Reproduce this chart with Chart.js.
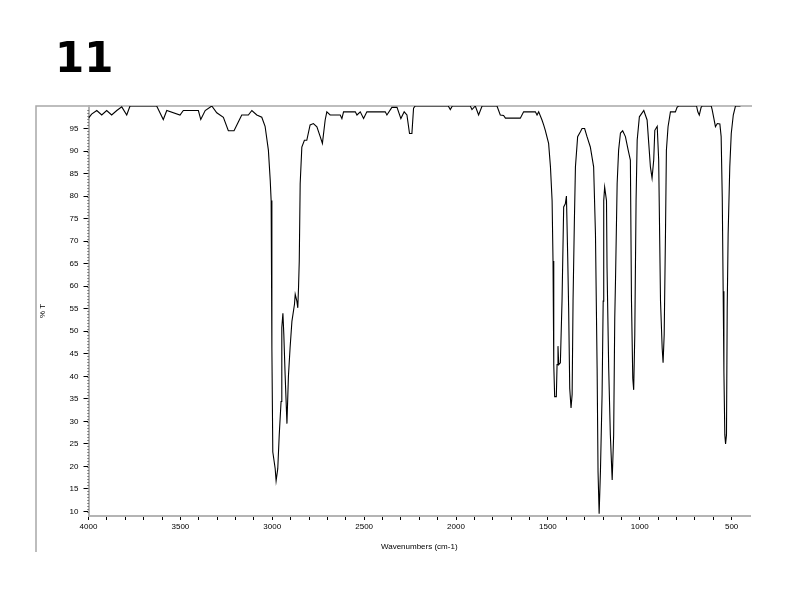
<!DOCTYPE html>
<html>
<head>
<meta charset="utf-8">
<script src="https://cdn.jsdelivr.net/npm/chart.js@4"></script>
<style>
  html, body { margin: 0; padding: 0; background: #fff; }
  #wrap { width: 800px; height: 600px; }
</style>
</head>
<body>
<div id="wrap"><canvas id="chart" width="800" height="600"></canvas></div>
<script>
// IR spectrum (cm-1 and %T)
const wavenumbers = [
  4000, 3983, 3955, 3928, 3901, 3874, 3846, 3819, 3792, 3774,
  3629, 3593, 3574, 3502, 3484, 3402, 3389, 3365, 3329, 3302,
  3266, 3239, 3208, 3184, 3166, 3130, 3111, 3084, 3057, 3039,
  3021, 3011, 3006, 3002, 2997, 2984, 2979, 2970, 2962, 2952,
  2948, 2942, 2937, 2930, 2920, 2912, 2903, 2893, 2879, 2875,
  2866, 2861, 2857, 2853, 2848, 2839, 2825, 2812, 2794, 2776,
  2757, 2739, 2727, 2712, 2703, 2685, 2630, 2621, 2612, 2548,
  2539, 2521, 2503, 2485, 2385, 2376, 2349, 2321, 2300, 2282,
  2267, 2253, 2240, 2231, 2222, 2042, 2031, 2020, 1922, 1913,
  1895, 1877, 1858, 1777, 1759, 1741, 1731, 1650, 1632, 1568,
  1559, 1550, 1532, 1523, 1514, 1496, 1486, 1477, 1472, 1468,
  1463, 1454, 1450, 1445, 1441, 1432, 1423, 1414, 1405, 1399,
  1392, 1387, 1381, 1374, 1368, 1363, 1356, 1350, 1338, 1323,
  1314, 1300, 1287, 1269, 1251, 1241, 1232, 1227, 1221, 1214,
  1205, 1199, 1196, 1191, 1181, 1178, 1169, 1160, 1150, 1142,
  1136, 1132, 1123, 1115, 1105, 1093, 1078, 1063, 1051, 1045,
  1038, 1033, 1027, 1020, 1014, 1002, 978, 960, 951, 942,
  933, 924, 918, 905, 897, 887, 878, 873, 867, 860,
  855, 846, 833, 806, 797, 789, 691, 684, 676, 666,
  660, 611, 606, 597, 588, 578, 564, 557, 551, 546,
  542, 537, 533, 528, 524, 519, 510, 502, 491, 479,
  452
];
const transmittance = [
  97.3, 98.2, 99, 98, 99, 98, 99, 99.8, 98, 100,
  100, 97, 99, 98, 99, 99, 97, 99, 100, 98.5,
  97.5, 94.5, 94.5, 96.5, 98, 98, 99, 98, 97.5, 95.5,
  90.2, 83.5, 79, 46.3, 23.2, 19.5, 16.8, 19.5, 27, 34.4,
  50.8, 54, 49.3, 40.4, 29.5, 40, 46.3, 52.2, 56, 58.2,
  56.7, 55.2, 59.7, 65.6, 82.8, 90.9, 92.4, 92.4, 95.8, 96.1,
  95.4, 93.2, 91.7, 96.9, 98.7, 98, 98, 97.2, 98.7, 98.7,
  98, 98.7, 97.2, 98.7, 98.7, 98, 99.7, 99.7, 97.2, 98.7,
  98, 93.9, 93.9, 99.5, 100, 100, 99.2, 100, 100, 99.2,
  100, 98, 100, 100, 98, 97.9, 97.3, 97.3, 98.7, 98.7,
  98, 98.7, 96.9, 95.8, 94.6, 91.7, 86.5, 79, 65.6, 42.6,
  35.5, 35.5, 42.6, 46.7, 42.6, 43, 56.7, 77.6, 78.3, 80,
  66.4, 55.2, 37.3, 33, 36, 56.7, 73.9, 86.5, 93.2, 94.3,
  95, 95, 93.2, 90.9, 86.5, 71.6, 41.8, 18.8, 9.5, 18.8,
  35.9, 56.7, 79, 82, 79, 64.1, 41.8, 27, 17, 27,
  53, 61.2, 82.8, 90.2, 94, 94.5, 93.2, 90.2, 88, 56.7,
  39.6, 37, 49.3, 79, 92.4, 97.6, 99, 96.9, 91.7, 86.5,
  84, 88, 94.6, 95.5, 88, 56.7, 46.3, 43, 49.3, 71.6,
  90.2, 95.4, 98.7, 98.7, 99.7, 100, 100, 98.7, 98, 99.7,
  100, 100, 99.2, 97.3, 95.4, 96.1, 96, 93.2, 79.8, 58.9,
  41, 27, 25, 27, 55.2, 71.6, 86.5, 93.9, 98, 100,
  100
];

const xTickLabels = [4000, 3500, 3000, 2500, 2000, 1500, 1000, 500];
const yTickLabels = [10, 15, 20, 25, 30, 35, 40, 45, 50, 55, 60, 65, 70, 75, 80, 85, 90, 95];
const xRange = [400, 4000];
const yRange = [9, 100];
const chartTitle = '11';
const xAxisTitle = 'Wavenumbers (cm-1)';
const yAxisTitle = '% T';

const points = wavenumbers.map((w, i) => ({ x: w, y: transmittance[i] }));

// frame lines, dotted y axis and the big "11" label
const framePlugin = {
  id: 'framePlugin',
  beforeDraw(chart) {
    const ctx = chart.ctx;
    const area = chart.chartArea;
    ctx.save();
    ctx.strokeStyle = '#a8a8a8';
    ctx.lineWidth = 1.5;
    ctx.beginPath();
    ctx.moveTo(36, 552);
    ctx.lineTo(36, area.top);
    ctx.lineTo(area.right + 2, area.top);
    ctx.stroke();
    ctx.fillStyle = '#000';
    ctx.font = 'bold 42px "DejaVu Sans"';
    ctx.textBaseline = 'alphabetic';
    ctx.fillText(chartTitle, 55, 72);
    ctx.restore();
  },
  afterDraw(chart) {
    const ctx = chart.ctx;
    const area = chart.chartArea;
    ctx.save();
    ctx.strokeStyle = '#333';
    ctx.lineWidth = 1;
    ctx.setLineDash([1, 2]);
    ctx.beginPath();
    ctx.moveTo(area.left - 0.5, area.top + 4);
    ctx.lineTo(area.left - 0.5, area.bottom - 2);
    ctx.stroke();
    ctx.restore();
  }
};

const tickFont = { family: '"Liberation Sans", Arial, sans-serif', size: 8 };

new Chart(document.getElementById('chart'), {
  type: 'line',
  data: {
    datasets: [{
      data: points,
      borderColor: '#000',
      borderWidth: 1.1,
      pointRadius: 0,
      tension: 0,
      fill: false
    }]
  },
  options: {
    responsive: false,
    animation: false,
    layout: { padding: { left: 38, top: 106, right: 50, bottom: 44 } },
    plugins: {
      legend: { display: false },
      tooltip: { enabled: false }
    },
    scales: {
      x: {
        type: 'linear',
        reverse: true,
        min: xRange[0],
        max: xRange[1],
        afterBuildTicks: (scale) => {
          const t = [];
          for (let v = xTickLabels[xTickLabels.length - 1]; v <= xTickLabels[0]; v += 100) t.push({ value: v });
          scale.ticks = t;
        },
        afterFit: (scale) => { scale.height = 40; },
        grid: { drawOnChartArea: false, drawTicks: true, tickLength: 4, color: '#000' },
        border: { display: true, color: '#b4b4b4', width: 2 },
        ticks: {
          color: '#000',
          font: tickFont,
          padding: 2,
          maxRotation: 0,
          autoSkip: false,
          callback: (v) => xTickLabels.includes(v) ? String(v) : ''
        },
        title: {
          display: true,
          text: xAxisTitle,
          color: '#000',
          font: tickFont,
          padding: { top: 4, bottom: 4 }
        }
      },
      y: {
        type: 'linear',
        min: yRange[0],
        max: yRange[1],
        afterBuildTicks: (scale) => {
          scale.ticks = yTickLabels.map(v => ({ value: v }));
        },
        afterFit: (scale) => { scale.width = 50.5; },
        grid: { drawOnChartArea: false, drawTicks: true, tickLength: 5, color: '#000' },
        border: { display: true, color: '#b4b4b4', width: 2 },
        ticks: {
          color: '#000',
          font: tickFont,
          padding: 5,
          autoSkip: false,
          callback: (v) => String(v)
        },
        title: {
          display: true,
          text: yAxisTitle,
          color: '#000',
          font: tickFont,
          padding: { top: 0, bottom: 0 }
        }
      }
    }
  },
  plugins: [framePlugin]
});
</script>
</body>
</html>
